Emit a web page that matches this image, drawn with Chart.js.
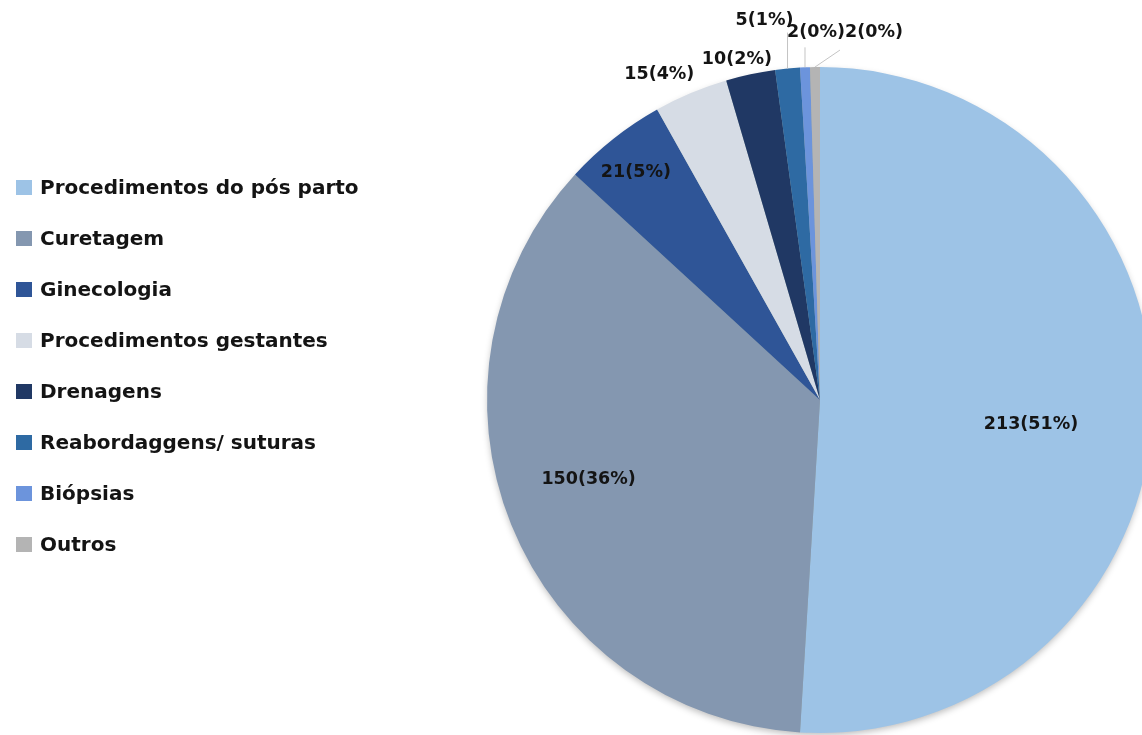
<!DOCTYPE html>
<html lang="pt">
<head>
<meta charset="utf-8">
<title>Procedimentos</title>
<script src="https://cdn.jsdelivr.net/npm/chart.js@4.4.1/dist/chart.umd.min.js"></script>
<style>
    html, body { margin: 0; padding: 0; background: #fff; overflow: hidden; width: 1142px; height: 735px; }
    #wrap { position: absolute; left: 0; top: 0; width: 1300px; height: 800px; }
    #legend { position: absolute; left: 16px; top: 175px; margin: 0; padding: 0; list-style: none;
              font-family: 'DejaVu Sans', sans-serif; font-weight: bold; font-size: 20px; color: #141414; }
    #legend li { height: 51px; display: flex; align-items: flex-start; }
    #legend .sw { width: 16px; height: 15px; margin-top: 5px; margin-right: 8px; flex: none; }
</style>
</head>
<body>
<div id="wrap"><canvas id="pieChart" width="1300" height="800"></canvas></div>
<ul id="legend"></ul>

<script>
/* ── dados ─────────────────────────────────────────────────────────── */
const categorias = [
    'Procedimentos do pós parto',
    'Curetagem',
    'Ginecologia',
    'Procedimentos gestantes',
    'Drenagens',
    'Reabordaggens/ suturas',
    'Biópsias',
    'Outros'
];
const quantidades = [213, 150, 21, 15, 10, 5, 2, 2];
const cores = ['#9dc3e6', '#8497b0', '#2f5597', '#d6dce5', '#203864', '#2e6aa3', '#6c94dc', '#b4b4b4'];

const total = quantidades.reduce((a, b) => a + b, 0);
const rotulo = v => `${v}(${Math.round(v / total * 100)}%)`;

/* ── legenda em HTML ───────────────────────────────────────────────── */
document.getElementById('legend').innerHTML = categorias.map((c, i) =>
    `<li><span class="sw" style="background:${cores[i]}"></span>${c}</li>`).join('');

/* ── sombra leve sob o disco ───────────────────────────────────────── */
const sombra = {
    id: 'sombra',
    beforeDatasetsDraw(chart) {
        const arc = chart.getDatasetMeta(0).data[0];
        if (!arc) return;
        const { ctx } = chart;
        ctx.save();
        ctx.shadowColor = 'rgba(0,0,0,0.28)';
        ctx.shadowBlur = 7;
        ctx.shadowOffsetY = 3;
        ctx.fillStyle = '#9aa';
        ctx.beginPath();
        ctx.arc(arc.x, arc.y, arc.outerRadius - 1, 0, Math.PI * 2);
        ctx.fill();
        ctx.restore();
    }
};

/* ── rótulos de dados (dentro, fora e com linha guia) ──────────────── */
// k = fração do raio no ângulo médio; d = ajuste fino em px
const posRotulo = [
    { k: 0.64,  d: [-2, 18] },
    { k: 0.733, d: [-5, -12] },
    { k: 0.877, d: [-3, 2] },
    { k: 1.089, d: [-20, 9] },
    { k: 1.051, d: [-10, 2] },
    // fatias pequenas: linha guia da borda até "fim", texto deslocado de "txt"
    { guia: true, fim: [0, -36], txt: [-23, -12] },
    { guia: true, fim: [0, -20], txt: [11, -15] },
    { guia: true, fim: [25, -17], txt: [34, -18] }
];

const rotulos = {
    id: 'rotulos',
    afterDatasetsDraw(chart) {
        const { ctx } = chart;
        const meta = chart.getDatasetMeta(0);
        ctx.save();
        ctx.font = "bold 17.5px 'DejaVu Sans', sans-serif";
        ctx.fillStyle = '#141414';
        ctx.textAlign = 'center';
        ctx.textBaseline = 'middle';
        meta.data.forEach((arc, i) => {
            const p = posRotulo[i];
            const a = (arc.startAngle + arc.endAngle) / 2;
            const txt = rotulo(quantidades[i]);
            if (p.guia) {
                const x0 = arc.x + Math.cos(a) * arc.outerRadius;
                const y0 = arc.y + Math.sin(a) * arc.outerRadius;
                const x1 = x0 + p.fim[0], y1 = y0 + p.fim[1];
                ctx.strokeStyle = '#c4c4c4';
                ctx.lineWidth = 1;
                ctx.beginPath();
                ctx.moveTo(x0, y0);
                ctx.lineTo(x1, y1);
                ctx.stroke();
                ctx.fillText(txt, x1 + p.txt[0], y1 + p.txt[1]);
            } else {
                const r = arc.outerRadius * p.k;
                ctx.fillText(txt, arc.x + Math.cos(a) * r + p.d[0], arc.y + Math.sin(a) * r + p.d[1]);
            }
        });
        ctx.restore();
    }
};

new Chart(document.getElementById('pieChart'), {
    type: 'pie',
    data: {
        labels: categorias,
        datasets: [{ data: quantidades, backgroundColor: cores, borderWidth: 0, hoverOffset: 0 }]
    },
    options: {
        responsive: false,
        animation: false,
        events: [],
        layout: { padding: { left: 487, right: 147, top: 67, bottom: 67 } },
        plugins: { legend: { display: false }, tooltip: { enabled: false } }
    },
    plugins: [sombra, rotulos]
});
</script>
</body>
</html>
